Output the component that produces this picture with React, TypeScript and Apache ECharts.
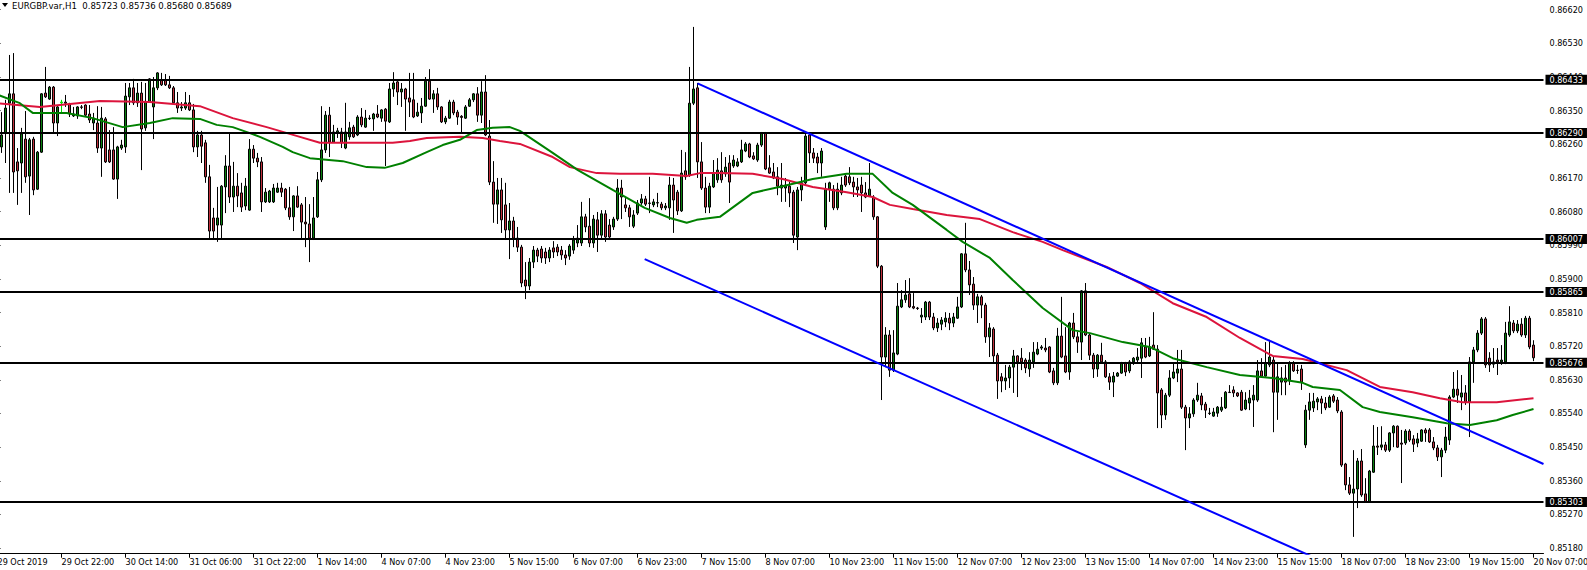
import React, { useEffect, useRef } from "react";
import * as echarts from "echarts";

const FONT = '"DejaVu Sans Condensed", "Liberation Sans", sans-serif';

const headerText = "EURGBP.var,H1  0.85723 0.85736 0.85680 0.85689";

// time labels, one every 16 hourly bars (slot 0, 16, 32 ...)
const timeLabels = [
  "29 Oct 2019", "29 Oct 22:00", "30 Oct 14:00", "31 Oct 06:00", "31 Oct 22:00",
  "1 Nov 14:00", "4 Nov 07:00", "4 Nov 23:00", "5 Nov 15:00", "6 Nov 07:00",
  "6 Nov 23:00", "7 Nov 15:00", "8 Nov 07:00", "10 Nov 23:00", "11 Nov 15:00",
  "12 Nov 07:00", "12 Nov 23:00", "13 Nov 15:00", "14 Nov 07:00", "14 Nov 23:00",
  "15 Nov 15:00", "18 Nov 07:00", "18 Nov 23:00", "19 Nov 15:00", "20 Nov 07:00",
];
const LABEL_EVERY = 16;
const SLOT_COUNT = 387;

// price tick labels on the right axis
const priceTicks = [
  0.8518, 0.8527, 0.8536, 0.8545, 0.8554, 0.8563, 0.8572, 0.8581, 0.859,
  0.8599, 0.8608, 0.8617, 0.8626, 0.8635, 0.8644, 0.8653, 0.8662,
];
const Y_MIN = 0.85165;
const Y_MAX = 0.86646;

// horizontal support / resistance levels
const levels = [0.86433, 0.8629, 0.86007, 0.85865, 0.85676, 0.85303];
const bidPrice = 0.85689;

// hourly candles [open, close, low, high] for slots 1..384
const candles: number[][] = [
  [0.86253,0.86285,0.86237,0.86346],[0.8629,0.86357,0.8621,0.86379],[0.8637,0.86395,0.8613,0.86499],[0.86395,0.86186,0.8613,0.86504],
  [0.86213,0.86189,0.86098,0.8625],[0.8621,0.86288,0.8613,0.86304],[0.86274,0.86173,0.86157,0.86349],[0.86175,0.86272,0.86071,0.86277],
  [0.86274,0.86138,0.86124,0.8628],[0.8614,0.86239,0.86138,0.86242],[0.86239,0.86395,0.86237,0.86397],[0.86397,0.86387,0.86384,0.86467],
  [0.86381,0.86413,0.86379,0.86416],[0.86413,0.86317,0.86293,0.86416],[0.86317,0.8636,0.86282,0.86365],[0.86371,0.86373,0.86344,0.86379],
  [0.86373,0.8637,0.8636,0.86392],[0.86368,0.86341,0.86333,0.86371],[0.86336,0.86341,0.86333,0.8636],[0.86336,0.8636,0.86328,0.86362],
  [0.8636,0.86359,0.86354,0.86365],[0.86365,0.86338,0.86335,0.86367],[0.86341,0.86325,0.86317,0.86365],[0.86317,0.8633,0.86298,0.86344],
  [0.86317,0.8625,0.86237,0.86362],[0.8625,0.8633,0.86173,0.8636],[0.86328,0.86213,0.8621,0.86333],[0.86245,0.86213,0.8621,0.86298],
  [0.86245,0.86167,0.86165,0.86306],[0.86167,0.86253,0.86114,0.86256],[0.8625,0.86258,0.86245,0.86272],[0.86253,0.86389,0.86237,0.86424],
  [0.86387,0.86411,0.86365,0.86424],[0.86411,0.86371,0.86365,0.86435],[0.86371,0.86397,0.8636,0.86424],[0.86397,0.86301,0.86191,0.86427],
  [0.86304,0.86373,0.86296,0.86424],[0.86373,0.86435,0.86371,0.86437],[0.8636,0.86411,0.86274,0.8644],[0.86411,0.86451,0.86405,0.86453],
  [0.86432,0.86419,0.86416,0.86451],[0.86432,0.86419,0.86416,0.86448],[0.86419,0.86411,0.86408,0.86443],[0.86411,0.86371,0.86368,0.86416],
  [0.86371,0.86357,0.86344,0.864],[0.86357,0.8636,0.86349,0.86373],[0.86357,0.86371,0.86352,0.864],[0.86371,0.86352,0.86349,0.86392],
  [0.86352,0.86253,0.86239,0.86368],[0.86253,0.86285,0.86226,0.86296],[0.86285,0.86255,0.8621,0.86296],[0.86264,0.86173,0.86157,0.86272],
  [0.86173,0.86028,0.86009,0.86205],[0.86063,0.86028,0.86009,0.8609],[0.86044,0.86063,0.85999,0.86146],[0.86044,0.86148,0.86009,0.86151],
  [0.86146,0.86202,0.86076,0.86231],[0.86202,0.86119,0.86103,0.86288],[0.86119,0.86148,0.86079,0.86213],[0.86148,0.86122,0.86092,0.86183],
  [0.8613,0.86092,0.86079,0.86157],[0.86095,0.86148,0.86084,0.8617],[0.86084,0.86247,0.86082,0.86274],[0.86247,0.86223,0.8621,0.86258],
  [0.86223,0.86213,0.86199,0.86237],[0.86213,0.86106,0.86079,0.86226],[0.86106,0.86132,0.86103,0.86143],[0.86106,0.86135,0.86103,0.86138],
  [0.86106,0.86143,0.86103,0.86154],[0.86132,0.86143,0.8613,0.86157],[0.86143,0.86132,0.86119,0.86157],[0.8614,0.8609,0.86084,0.86143],
  [0.8609,0.86066,0.86058,0.86146],[0.86066,0.86122,0.86028,0.86124],[0.86122,0.86092,0.8609,0.86148],[0.86098,0.86052,0.86009,0.86103],
  [0.86052,0.86047,0.85985,0.86119],[0.86047,0.86009,0.85945,0.861],[0.86009,0.86063,0.86004,0.86119],[0.86066,0.86165,0.86063,0.86186],
  [0.86165,0.86245,0.86159,0.86362],[0.86245,0.86338,0.86237,0.86349],[0.86338,0.86266,0.86226,0.8636],[0.86266,0.86293,0.86264,0.86312],
  [0.8629,0.86296,0.86277,0.86304],[0.86293,0.86264,0.8625,0.86304],[0.8625,0.86293,0.86247,0.86371],[0.8628,0.86304,0.86272,0.8632],
  [0.86306,0.8628,0.86277,0.86312],[0.86285,0.86333,0.86282,0.86338],[0.86333,0.86312,0.86306,0.86357],[0.86306,0.8633,0.86304,0.86352],
  [0.8633,0.86329,0.86325,0.86338],[0.86328,0.86341,0.86296,0.86344],[0.86341,0.86333,0.8633,0.86365],[0.8633,0.86352,0.8632,0.86354],
  [0.86354,0.86322,0.86202,0.86357],[0.8632,0.86408,0.86317,0.86424],[0.86408,0.86424,0.86387,0.86453],[0.86427,0.864,0.86365,0.8643],
  [0.864,0.86408,0.8636,0.86424],[0.86408,0.86381,0.86296,0.86411],[0.86384,0.86373,0.86333,0.86451],[0.86379,0.86333,0.8633,0.86451],
  [0.86336,0.86346,0.86333,0.86371],[0.86344,0.86362,0.86317,0.86384],[0.86362,0.86429,0.8636,0.8644],[0.86429,0.86381,0.86379,0.86461],
  [0.86381,0.86395,0.86344,0.86405],[0.86395,0.8636,0.86352,0.86411],[0.8636,0.8632,0.86317,0.86362],[0.8632,0.8633,0.86314,0.86336],
  [0.8633,0.86373,0.86328,0.86379],[0.86373,0.86344,0.86338,0.86379],[0.86346,0.86333,0.86312,0.86352],[0.86335,0.86332,0.8629,0.86338],
  [0.8633,0.8636,0.86328,0.86365],[0.86362,0.86379,0.8636,0.86384],[0.86379,0.86395,0.86373,0.86397],[0.86395,0.86338,0.8632,0.86413],
  [0.86338,0.864,0.86317,0.86429],[0.864,0.86285,0.86282,0.86445],[0.86282,0.86159,0.86151,0.86325],[0.86159,0.861,0.8605,0.86215],
  [0.861,0.86138,0.86047,0.8617],[0.86138,0.86058,0.86023,0.8617],[0.86098,0.86031,0.86004,0.86157],[0.86031,0.86055,0.85953,0.86103],
  [0.86055,0.86009,0.85985,0.86066],[0.86009,0.85985,0.85972,0.86039],[0.85985,0.85889,0.85878,0.85991],[0.85897,0.85881,0.85846,0.85945],
  [0.85881,0.85945,0.8587,0.85956],[0.85945,0.85977,0.85929,0.85988],[0.85977,0.85961,0.85945,0.85983],[0.8598,0.85956,0.85943,0.85988],
  [0.85972,0.85956,0.8594,0.85983],[0.85956,0.85977,0.85945,0.85985],[0.85983,0.85972,0.85956,0.86001],[0.85985,0.85972,0.85961,0.85993],
  [0.85977,0.85964,0.85951,0.85988],[0.85964,0.85956,0.85937,0.85977],[0.85961,0.85988,0.85951,0.85993],[0.85977,0.86004,0.85967,0.86015],
  [0.85996,0.86009,0.85985,0.86044],[0.85996,0.86066,0.85988,0.86106],[0.86066,0.86039,0.86025,0.86074],[0.86041,0.85996,0.85985,0.86116],
  [0.85996,0.8606,0.85983,0.86071],[0.86058,0.86017,0.85972,0.86079],[0.86017,0.86074,0.86009,0.86084],[0.86074,0.86012,0.85999,0.86084],
  [0.86044,0.86012,0.86004,0.8606],[0.86039,0.8606,0.86031,0.86066],[0.8606,0.86143,0.86055,0.86167],[0.86143,0.86119,0.8606,0.86165],
  [0.86098,0.8609,0.86079,0.86116],[0.8609,0.86066,0.86039,0.86098],[0.86041,0.86071,0.86036,0.86084],[0.86076,0.86103,0.86071,0.86111],
  [0.86103,0.86114,0.86098,0.86127],[0.86114,0.861,0.86095,0.86122],[0.86103,0.86102,0.86076,0.86173],[0.86098,0.86106,0.86092,0.86114],
  [0.86103,0.86104,0.86092,0.8613],[0.861,0.8609,0.86084,0.86106],[0.8609,0.86095,0.86084,0.86103],[0.8609,0.86151,0.86058,0.86173],
  [0.86151,0.86111,0.86023,0.8617],[0.86132,0.86082,0.86071,0.86138],[0.86082,0.86183,0.86079,0.86245],[0.86189,0.86173,0.86165,0.86239],
  [0.86178,0.8637,0.86173,0.86467],[0.8637,0.86408,0.86365,0.86574],[0.86411,0.86213,0.8617,0.86424],[0.86213,0.86143,0.86138,0.86266],
  [0.86143,0.86092,0.86076,0.86173],[0.86092,0.86148,0.86076,0.86157],[0.86146,0.86183,0.86143,0.86218],[0.86165,0.86191,0.86157,0.86223],
  [0.86189,0.86165,0.86157,0.86239],[0.86181,0.86199,0.86173,0.86226],[0.8621,0.86159,0.86103,0.86231],[0.86202,0.86218,0.86197,0.86231],
  [0.86202,0.86213,0.86199,0.86223],[0.86213,0.86245,0.8621,0.86272],[0.86242,0.86261,0.86239,0.86266],[0.86261,0.86226,0.86223,0.86264],
  [0.86229,0.86221,0.86218,0.86239],[0.86218,0.86258,0.86213,0.86264],[0.86258,0.8629,0.86253,0.86293],[0.8629,0.86194,0.86191,0.86293],
  [0.86197,0.86183,0.86181,0.86231],[0.86186,0.8617,0.86167,0.8621],[0.86173,0.86148,0.86124,0.86199],[0.86143,0.86151,0.86106,0.8621],
  [0.86143,0.86151,0.86106,0.8617],[0.86148,0.8613,0.86092,0.86159],[0.86132,0.86017,0.85996,0.86138],[0.86012,0.86138,0.85977,0.86146],
  [0.86138,0.86157,0.86108,0.86173],[0.86157,0.86282,0.86151,0.86293],[0.86285,0.86237,0.8621,0.86293],[0.86237,0.86223,0.8621,0.8625],
  [0.86226,0.8621,0.86183,0.86237],[0.8621,0.86242,0.86173,0.8625],[0.86039,0.8614,0.86031,0.86157],[0.8614,0.86157,0.86106,0.8616],
  [0.8614,0.8609,0.86084,0.86151],[0.8609,0.8614,0.86084,0.86157],[0.8613,0.86151,0.86124,0.86173],[0.86175,0.86151,0.86146,0.86178],
  [0.86173,0.86157,0.86151,0.86199],[0.86159,0.86146,0.86119,0.86173],[0.86146,0.86138,0.86119,0.8617],[0.86151,0.8613,0.86079,0.86173],
  [0.8613,0.86119,0.86116,0.86159],[0.86122,0.8614,0.86119,0.8621],[0.86119,0.86066,0.86058,0.86124],[0.86066,0.85934,0.85929,0.86068],
  [0.85934,0.85691,0.85576,0.85937],[0.85691,0.8575,0.85664,0.85771],[0.8575,0.85656,0.85638,0.85763],[0.85656,0.85702,0.85651,0.85763],
  [0.85699,0.85827,0.85696,0.85889],[0.85825,0.85844,0.85822,0.8587],[0.85844,0.85857,0.85836,0.85897],[0.8586,0.85825,0.85822,0.85902],
  [0.85826,0.85822,0.85819,0.85862],[0.85822,0.85821,0.85817,0.85825],[0.85798,0.85803,0.85782,0.85822],[0.85798,0.85838,0.8579,0.85841],
  [0.85838,0.85798,0.8579,0.85841],[0.85798,0.85769,0.85763,0.85809],[0.85769,0.85782,0.85758,0.85795],[0.85779,0.8579,0.85763,0.85798],
  [0.85785,0.85795,0.85771,0.85811],[0.85795,0.85782,0.85763,0.85809],[0.85782,0.85798,0.85771,0.85809],[0.85795,0.85825,0.85793,0.85852],
  [0.85825,0.85967,0.85822,0.85969],[0.85967,0.85924,0.85918,0.8605],[0.85924,0.85884,0.85857,0.85948],[0.85886,0.8583,0.85817,0.85905],
  [0.8583,0.85852,0.85782,0.8586],[0.85852,0.8583,0.85795,0.85857],[0.8583,0.85745,0.85729,0.85836],[0.85745,0.85769,0.85691,0.85782],
  [0.85766,0.85694,0.85675,0.85771],[0.85696,0.85627,0.85579,0.85702],[0.85638,0.85627,0.85597,0.85648],[0.85627,0.85635,0.85603,0.8567],
  [0.85635,0.85664,0.85608,0.8567],[0.85664,0.85694,0.85595,0.8571],[0.85694,0.85678,0.85584,0.85696],[0.85688,0.85678,0.85656,0.85715],
  [0.85683,0.85662,0.85648,0.85688],[0.85659,0.85683,0.85638,0.85704],[0.85678,0.85704,0.85662,0.85731],[0.85699,0.85712,0.85696,0.85731],
  [0.85715,0.85718,0.8571,0.85723],[0.85715,0.8571,0.85704,0.85742],[0.85718,0.85651,0.85648,0.8572],[0.85654,0.85622,0.85616,0.85662],
  [0.85622,0.85747,0.85616,0.85769],[0.85747,0.85691,0.85688,0.85852],[0.85694,0.85651,0.85648,0.85771],[0.85651,0.85782,0.8563,0.85785],
  [0.85782,0.85745,0.85739,0.85809],[0.85745,0.85731,0.85702,0.85758],[0.85731,0.85868,0.85683,0.8587],[0.85868,0.8575,0.85747,0.85889],
  [0.8575,0.85696,0.85683,0.85755],[0.85696,0.85659,0.85635,0.85702],[0.85659,0.85696,0.85638,0.85699],[0.85696,0.85678,0.85675,0.85729],
  [0.85678,0.85638,0.85635,0.85683],[0.85638,0.85624,0.85603,0.85648],[0.85624,0.8564,0.85584,0.85651],[0.8564,0.85648,0.85638,0.85651],
  [0.85648,0.85675,0.85646,0.85678],[0.85675,0.85651,0.8564,0.85678],[0.85654,0.85678,0.85648,0.85683],[0.85678,0.85688,0.8567,0.85691],
  [0.85683,0.85691,0.85675,0.85715],[0.85688,0.85729,0.85635,0.85742],[0.85718,0.85691,0.85688,0.85742],[0.85694,0.85718,0.85691,0.85745],
  [0.85723,0.85712,0.8571,0.85811],[0.85712,0.85595,0.85501,0.85723],[0.85603,0.85536,0.85501,0.85608],[0.85536,0.85589,0.85523,0.85595],
  [0.85589,0.85635,0.85584,0.85656],[0.85635,0.85651,0.85632,0.85675],[0.85648,0.85659,0.85624,0.8571],[0.85659,0.85557,0.85552,0.8571],
  [0.85557,0.85528,0.85442,0.85563],[0.85528,0.85539,0.85501,0.85557],[0.85539,0.85576,0.85531,0.85581],[0.85576,0.85589,0.85571,0.85622],
  [0.85587,0.85563,0.85549,0.85595],[0.85565,0.85549,0.85528,0.85571],[0.85541,0.8554,0.85536,0.85555],[0.85533,0.85544,0.85531,0.85555],
  [0.85541,0.85557,0.85531,0.8556],[0.85549,0.85557,0.85544,0.85584],[0.85555,0.85597,0.85552,0.856],[0.85597,0.85596,0.85595,0.85616],
  [0.85603,0.85595,0.85584,0.85613],[0.85595,0.85587,0.85584,0.85597],[0.85597,0.85549,0.85547,0.85603],[0.85552,0.85576,0.85549,0.85597],
  [0.85568,0.85581,0.85549,0.85603],[0.85576,0.85589,0.85504,0.85616],[0.85576,0.85654,0.85571,0.85683],[0.85654,0.8564,0.85638,0.85688],
  [0.8564,0.85675,0.85638,0.85731],[0.8567,0.85691,0.85664,0.85737],[0.85683,0.85597,0.8549,0.85694],[0.85597,0.85638,0.85523,0.85675],
  [0.85624,0.85635,0.85589,0.85664],[0.85635,0.85624,0.85589,0.8567],[0.85627,0.85675,0.85616,0.8568],[0.85675,0.85654,0.85651,0.8568],
  [0.85656,0.85655,0.85646,0.8567],[0.85659,0.85624,0.85603,0.8567],[0.85456,0.85549,0.85448,0.85563],[0.85549,0.85571,0.85523,0.85595],
  [0.85555,0.85573,0.85544,0.85595],[0.85571,0.85579,0.85549,0.85584],[0.85579,0.85568,0.85539,0.85587],[0.85568,0.85555,0.85549,0.85584],
  [0.85557,0.85584,0.85555,0.85589],[0.85587,0.85573,0.85568,0.85592],[0.85576,0.85547,0.85541,0.85584],[0.85544,0.85402,0.85397,0.85549],
  [0.85405,0.85349,0.85335,0.85408],[0.85349,0.85327,0.85322,0.8537],[0.85327,0.85338,0.8521,0.85442],[0.85338,0.85413,0.85287,0.85421],
  [0.85413,0.85322,0.85317,0.85445],[0.85325,0.85303,0.85301,0.85367],[0.85303,0.85386,0.85301,0.85389],[0.85383,0.85453,0.85381,0.85509],
  [0.85453,0.8545,0.85429,0.85504],[0.8545,0.85456,0.85442,0.85506],[0.85456,0.85442,0.85437,0.85464],[0.85442,0.85488,0.85437,0.8549],
  [0.85488,0.85506,0.8545,0.85509],[0.85506,0.8545,0.85448,0.85508],[0.85461,0.85458,0.85354,0.85496],[0.85461,0.85493,0.85456,0.85498],
  [0.85493,0.85469,0.85464,0.85498],[0.85472,0.85458,0.85437,0.85482],[0.85461,0.85472,0.8545,0.85488],[0.85466,0.85496,0.85464,0.85498],
  [0.85496,0.85488,0.85464,0.85501],[0.85496,0.85464,0.85461,0.85501],[0.85464,0.85448,0.85442,0.85477],[0.85448,0.85424,0.85413,0.85456],
  [0.85424,0.85442,0.8537,0.85448],[0.85442,0.85477,0.85434,0.85504],[0.85469,0.85584,0.85456,0.85589],[0.85584,0.85605,0.85581,0.85651],
  [0.85605,0.85589,0.85568,0.85656],[0.85584,0.85595,0.85549,0.85643],[0.85595,0.85571,0.85563,0.85616],[0.85571,0.85678,0.85477,0.85691],
  [0.85678,0.8571,0.85622,0.85718],[0.8571,0.85755,0.85704,0.85763],[0.85755,0.85793,0.8575,0.85798],[0.85793,0.8567,0.85662,0.85798],
  [0.85688,0.8567,0.85651,0.85704],[0.85672,0.85678,0.85662,0.85715],[0.85683,0.85678,0.85643,0.85715],[0.85678,0.85683,0.8567,0.85723],
  [0.85678,0.85755,0.85672,0.85785],[0.8575,0.85785,0.85745,0.85827],[0.85782,0.85761,0.85755,0.8579],[0.85761,0.85779,0.85755,0.8579],
  [0.85779,0.8575,0.85745,0.85795],[0.8575,0.85795,0.85742,0.85801],[0.85795,0.85718,0.85712,0.85801],[0.85723,0.85689,0.8568,0.85736],
];
const FIRST_SLOT = 1;
const highlightedSlot = 16; // doji drawn in lime on the reference

// moving averages [slot, price]
const maSlow: number[][] = [
  [-0.5,0.8637],[10.6,0.8636],[25.6,0.86376],[38.1,0.86373],[50.6,0.86362],[58.8,0.8633],[67.3,0.86306],
  [75.6,0.8628],[80.6,0.86264],[88.1,0.86264],[98.8,0.86264],[103.1,0.86269],[107.3,0.86277],[115.6,0.8628],
  [121.3,0.86277],[125.6,0.86269],[130.6,0.86261],[138.8,0.86226],[143.1,0.86199],[149.8,0.86183],[155.6,0.86181],
  [163.8,0.86181],[172.3,0.86175],[175.6,0.86183],[180.6,0.86183],[188.8,0.86181],[196.3,0.86167],[203.8,0.86146],
  [212.3,0.86132],[218.8,0.86119],[223.1,0.86098],[228.8,0.86087],[237.3,0.86071],[245.6,0.8606],[253.8,0.86025],
  [261.3,0.85999],[266.3,0.85977],[277.3,0.85932],[285.6,0.85889],[293.8,0.85835],[302.3,0.85798],[310.6,0.85742],
  [318.8,0.85694],[326.3,0.85686],[337.3,0.85656],[345.6,0.85611],[353.8,0.85597],[360.6,0.85581],[366.3,0.8557],
  [374.8,0.8557],[384,0.85581],
];
const maFast: number[][] = [
  [-0.5,0.86395],[5.6,0.8637],[8.8,0.86344],[17.3,0.86344],[23.8,0.8633],[31.3,0.86306],[38.1,0.86317],
  [43.8,0.8633],[50.6,0.86328],[54.8,0.86312],[58.8,0.86306],[63.1,0.8629],[65.6,0.8628],[71.3,0.86253],
  [73.8,0.86239],[78.1,0.86223],[86.3,0.86215],[92.3,0.86199],[96.8,0.86197],[101.3,0.8621],[107.3,0.86239],
  [111.3,0.86258],[115.6,0.86272],[119.8,0.86298],[123.8,0.86304],[128.1,0.86306],[130.6,0.86296],[138.8,0.86237],
  [145.1,0.86191],[153.8,0.86138],[161.8,0.8609],[168.1,0.86063],[172.3,0.8605],[174.8,0.86058],[180.6,0.86066],
  [188.8,0.8613],[196.3,0.86148],[203.8,0.86167],[212.3,0.86181],[218.8,0.86181],[223.8,0.8613],[228.8,0.86098],
  [237.3,0.86031],[241.3,0.85999],[248.1,0.85956],[253.8,0.85897],[261.3,0.85822],[268.8,0.85763],[273.1,0.85755],
  [281.3,0.85731],[288.1,0.85718],[293.8,0.85688],[302.3,0.85664],[310.6,0.85643],[318.8,0.85635],[326.3,0.85622],
  [328.8,0.85611],[335.6,0.85603],[341.3,0.85557],[345.6,0.85544],[353.8,0.8553],[362.3,0.85514],[368.1,0.85509],
  [374.8,0.85522],[378.8,0.85536],[384,0.85552],
];

// descending channel trend lines [slot, price]
const channelUpper: number[][] = [[175, 0.86423], [386.5, 0.85405]];
const channelLower: number[][] = [[161.8, 0.85953], [330.6, 0.85148]];

const BULL = "#0a800f";
const BEAR = "#c0303c";

export default function App() {
  const ref = useRef<HTMLDivElement>(null);

  useEffect(() => {
    document.body.style.margin = "0";
    if (!ref.current) return;
    const chart = echarts.init(ref.current, null, { renderer: "svg" });

    const categories: string[] = [];
    for (let s = 0; s < SLOT_COUNT; s++) {
      const k = s / LABEL_EVERY;
      categories.push(s % LABEL_EVERY === 0 && k < timeLabels.length ? timeLabels[k] : "h" + s);
    }
    const showTick = (i: number) => i % LABEL_EVERY === 0;

    const candleData = candles.map((r, i) => {
      const slot = i + FIRST_SLOT;
      const value = [slot, r[0], r[1], r[2], r[3]];
      if (slot === highlightedSlot) {
        return { value, itemStyle: { color: "#00e000", borderColor: "#00e000", color0: "#00e000", borderColor0: "#00e000" } };
      }
      return value;
    });

    const labelBox = {
      show: true,
      position: "end",
      distance: 2,
      formatter: (p: any) => Number(p.value).toFixed(5),
      color: "#fff",
      backgroundColor: "#000",
      padding: [1, 4, 0, 4],
      fontSize: 9,
      fontFamily: FONT,
    };

    const option: any = {
      animation: false,
      backgroundColor: "#fff",
      textStyle: { fontFamily: FONT },
      grid: {
        left: -4.5,
        right: 43.5,
        top: 0,
        bottom: 16.3,
        show: false,
        containLabel: false,
        outerBoundsMode: "none",
      },
      xAxis: [
        {
          type: "category",
          data: categories,
          boundaryGap: true,
          axisLine: { show: true, lineStyle: { color: "#000", width: 1 } },
          axisTick: { show: true, alignWithLabel: true, interval: showTick, length: 4, lineStyle: { color: "#000" } },
          axisLabel: { interval: showTick, align: "left", margin: 4, color: "#000", fontSize: 9, fontFamily: FONT },
          splitLine: { show: false },
        },
        { type: "value", min: -0.5, max: SLOT_COUNT - 0.5, show: false },
      ],
      yAxis: {
        type: "value",
        position: "right",
        min: Y_MIN,
        max: Y_MAX,
        axisLine: { show: true, lineStyle: { color: "#000", width: 1 } },
        axisTick: { show: true, length: 3, customValues: priceTicks, lineStyle: { color: "#000" } },
        axisLabel: {
          customValues: priceTicks,
          formatter: (v: number) => v.toFixed(5),
          margin: 6,
          color: "#000",
          fontSize: 9,
          fontFamily: FONT,
        },
        splitLine: { show: false },
      },
      graphic: [
        { type: "polygon", shape: { points: [[2, 3], [8, 3], [5, 7]] }, style: { fill: "#000" } },
        {
          type: "text",
          x: 12,
          y: 0,
          style: { text: headerText, fill: "#000", fontSize: 9.5, fontFamily: FONT, verticalAlign: "top" },
        },
      ],
      series: [
        {
          type: "candlestick",
          xAxisIndex: 0,
          yAxisIndex: 0,
          dimensions: ["slot", "open", "close", "lowest", "highest"],
          encode: { x: "slot", y: ["open", "close", "lowest", "highest"] },
          data: candleData,
          barWidth: 2,
          itemStyle: { color: BULL, color0: BEAR, borderColor: "#000", borderColor0: "#000", borderWidth: 1 },
          z: 2,
        },
        {
          type: "line",
          name: "levels",
          xAxisIndex: 1,
          yAxisIndex: 0,
          data: [],
          symbol: "none",
          z: 3,
          markLine: {
            silent: true,
            precision: 5,
            symbol: ["none", "none"],
            animation: false,
            lineStyle: { color: "#000", width: 2, type: "solid" },
            label: labelBox,
            emphasis: { disabled: true },
            data: [
              {
                yAxis: bidPrice,
                lineStyle: { opacity: 0 },
                label: { ...labelBox, color: "#000", backgroundColor: "transparent" },
              },
              ...levels.map((v) => ({ yAxis: v })),
            ],
          },
        },
        {
          type: "line",
          xAxisIndex: 1,
          data: maSlow,
          symbol: "none",
          lineStyle: { color: "#dc143c", width: 2 },
          z: 4,
        },
        {
          type: "line",
          xAxisIndex: 1,
          data: maFast,
          symbol: "none",
          lineStyle: { color: "#008000", width: 2 },
          z: 4,
        },
        {
          type: "line",
          xAxisIndex: 1,
          data: channelUpper,
          symbol: "none",
          lineStyle: { color: "#0000ff", width: 2 },
          z: 5,
        },
        {
          type: "line",
          xAxisIndex: 1,
          data: channelLower,
          symbol: "none",
          lineStyle: { color: "#0000ff", width: 2 },
          z: 5,
        },
      ],
    };

    chart.setOption(option);
    return () => chart.dispose();
  }, []);

  return <div ref={ref} style={{ width: 1587, height: 570 }} />;
}
